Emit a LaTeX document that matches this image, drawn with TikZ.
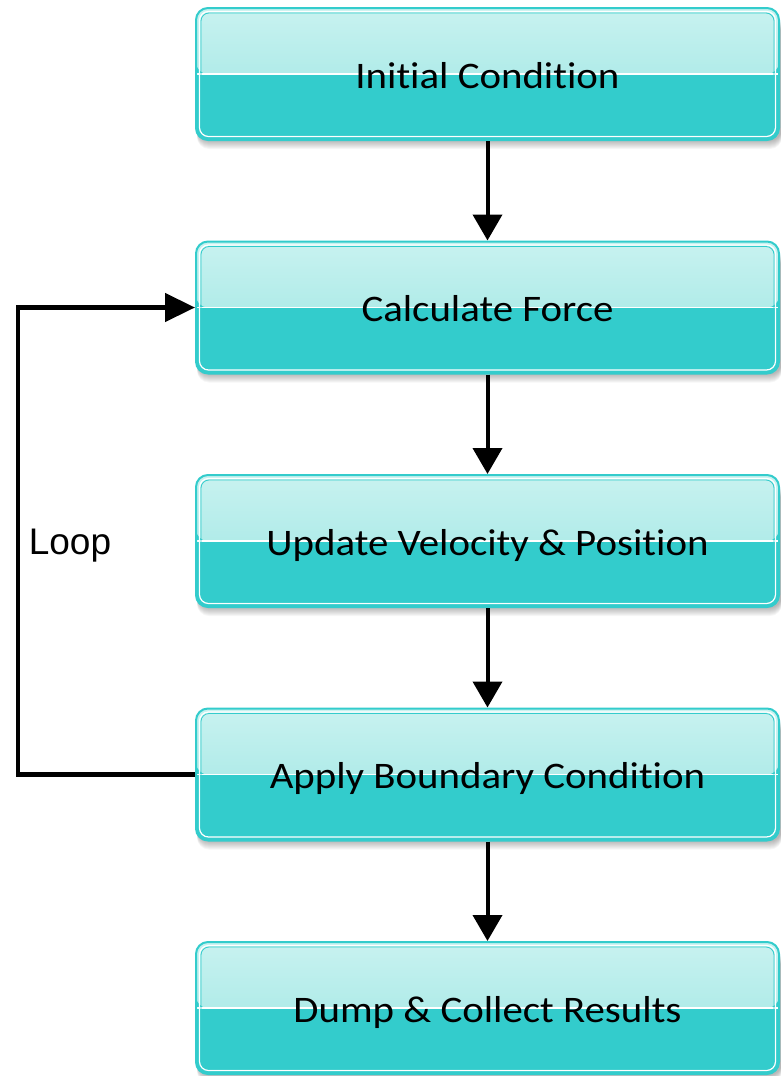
\documentclass[tikz,border=0pt]{standalone}
\usepackage{fontspec}
\usepackage{graphicx}
\newfontfamily\boxfont[Ligatures=NoCommon]{Carlito}
\newfontfamily\loopfont{Liberation Sans}
\usetikzlibrary{arrows.meta}
\definecolor{teal1}{HTML}{33CCCC}
\definecolor{toplight}{HTML}{C8F2F0}
\definecolor{topmid}{HTML}{9AE5E2}
\newcommand{\wide}[1]{\scalebox{1.09}[1]{#1}}
\tikzset{
 stepbox/.style={rectangle, rounded corners=12pt, minimum width=583pt, minimum height=132pt,
  inner sep=0pt, text height=34pt, text depth=6pt, draw=teal1, line width=2pt, fill=teal1,
  font=\boxfont\fontsize{37.5}{44}\selectfont, text=black,
  path picture={
   \fill[top color=toplight, bottom color=topmid] (path picture bounding box.north west) rectangle (path picture bounding box.east);
   \draw[white, line width=1.5pt] (path picture bounding box.west) -- (path picture bounding box.east);
   \draw[white, line width=1.2pt, rounded corners=9pt] ([xshift=3.5pt,yshift=-3.5pt]path picture bounding box.north west) rectangle ([xshift=-3.5pt,yshift=3.5pt]path picture bounding box.south east);
   \draw[teal1, line width=0.8pt, rounded corners=8pt] ([xshift=5pt,yshift=-5pt]path picture bounding box.north west) rectangle ([xshift=-5pt,yshift=5pt]path picture bounding box.south east);
  }},
 flow/.style={line width=4pt, -{Triangle[width=29pt,length=26pt]}},
 loopline/.style={line width=4.5pt, -{Triangle[width=28pt,length=30pt]}},
 shadowbox/.style={fill=black, opacity=0.035, rounded corners=12pt},
}
\begin{document}
\begin{tikzpicture}[x=1pt,y=-1pt]
\useasboundingbox (0,0) rectangle (780,1076);
\foreach \yc in {74,307.5,541,774.5,1008}{
  \foreach \s in {1,...,9}{
    \fill[shadowbox] (197,\yc-60+\s) rectangle (782,\yc+66+\s);
  }
}
\node[stepbox] (b1) at (487.5,74) {\wide{Initial Condition}};
\node[stepbox] (b2) at (487.5,307.5) {\wide{Calculate Force}};
\node[stepbox] (b3) at (487.5,541) {\wide{Update Velocity \& Position}};
\node[stepbox] (b4) at (487.5,774.5) {\wide{Apply Boundary Condition}};
\node[stepbox] (b5) at (487.5,1008) {\wide{Dump \& Collect Results}};
\draw[flow] (b1.south) -- (b2.north);
\draw[flow] (b2.south) -- (b3.north);
\draw[flow] (b3.south) -- (b4.north);
\draw[flow] (b4.south) -- (b5.north);
\coordinate (lb) at (18,774.5);
\coordinate (lt) at (18,307.5);
\draw[loopline] (b4.west) -- (lb) -- (lt) -- (b2.west);
\node[font=\loopfont\fontsize{37}{40}\selectfont, inner sep=0pt] (loop) at (70,546) {Loop};
\end{tikzpicture}
\end{document}
